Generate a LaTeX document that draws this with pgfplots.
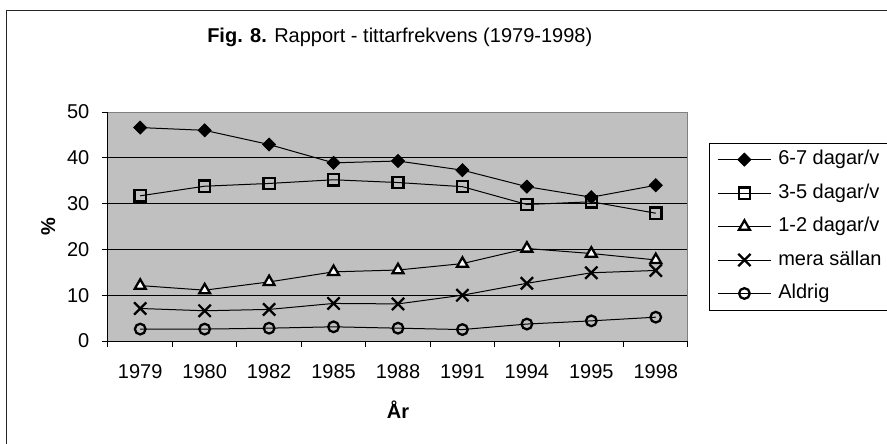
\documentclass[border=0pt]{standalone}
\usepackage{fontspec}
\setmainfont{Liberation Sans}
\usepackage{pgfplots}
\pgfplotsset{compat=1.18}
\definecolor{plotbg}{HTML}{C0C0C0}
\definecolor{edge}{HTML}{808080}
\newcommand\cf{\fontsize{15}{18}\selectfont}

\begin{document}
\begin{tikzpicture}
\useasboundingbox (-81pt,-76.5pt) rectangle (584.25pt,255.75pt);
\draw[line width=0.75pt, black!85] (-75.75pt,-90pt) -- (-75.75pt,247.5pt) -- (600pt,247.5pt);
\begin{axis}[
  at={(0,0)}, anchor=south west,
  scale only axis, width=435pt, height=171.75pt,
  xmin=-0.5, xmax=8.5, ymin=0, ymax=50,
  xtick={-0.5,0.5,...,8.5},
  x tick label as interval,
  xticklabels={1979,1980,1982,1985,1988,1991,1994,1995,1998},
  ytick={0,10,...,50},
  axis x line*=bottom, axis y line*=left,
  axis line style={-, line width=0.75pt},
  tick align=outside, major tick length=4.5pt,
  tick style={black, line width=0.75pt},
  ymajorgrids, grid style={black, line width=0.75pt},
  axis background/.style={fill=plotbg},
  ticklabel style={font=\cf},
  /pgf/number format/assume math mode=true,
  xticklabel style={anchor=base, yshift=-23.25pt},
  yticklabel style={anchor=east, xshift=-6pt},
  title={\textbf{Fig. 8.} Rapport - tittarfrekvens (1979-1998)},
  title style={at={(0.503,1.27)}, anchor=base, font=\cf},
  xlabel={\textbf{År}},
  xlabel style={at={(0.5,-0.34)}, anchor=base, font=\cf},
  ylabel={\textbf{\%}},
  ylabel style={at={(-0.103,0.5)}, anchor=center, font=\cf},
  legend style={at={(1.0362,0.8646)}, anchor=north west, font=\cf,
    draw=black, fill=white, inner xsep=6pt, inner ysep=5pt,
    row sep=10.6pt, column sep=5pt,
    nodes={inner sep=0pt, text height=11pt, text depth=3.5pt}},
  legend cell align=left,
  legend image code/.code={\draw[mark repeat=2,mark phase=2] plot coordinates {(0pt,0pt) (20pt,0pt) (40pt,0pt)};},
  after end axis/.code={\draw[edge, line width=0.75pt] (rel axis cs:0,1) -- (rel axis cs:1,1) -- (rel axis cs:1,0);},
]
\addplot[black, line width=0.75pt, mark=square*, mark size=3.5pt, mark options={rotate=45, fill=black, line width=0.5pt}]
  coordinates {(0,46.6) (1,46.0) (2,42.9) (3,38.9) (4,39.3) (5,37.3) (6,33.7) (7,31.4) (8,34.0)};
\addlegendentry{6-7 dagar/v}
\addplot[black, line width=0.75pt, mark=square, mark size=4.2pt, mark options={line width=1.7pt}]
  coordinates {(0,31.7) (1,33.8) (2,34.4) (3,35.2) (4,34.6) (5,33.7) (6,29.8) (7,30.4) (8,27.9)};
\addlegendentry{3-5 dagar/v}
\addplot[black, line width=0.75pt, mark=triangle*, mark size=4.7pt, mark options={fill=white, line width=1.7pt}]
  coordinates {(0,12.1) (1,11.1) (2,12.9) (3,15.1) (4,15.5) (5,16.9) (6,20.2) (7,19.1) (8,17.7)};
\addlegendentry{1-2 dagar/v}
\addplot[black, line width=0.75pt, mark=x, mark size=6.5pt, mark options={line width=1.7pt}]
  coordinates {(0,7.1) (1,6.6) (2,6.9) (3,8.2) (4,8.1) (5,10.0) (6,12.6) (7,14.9) (8,15.4)};
\addlegendentry{mera sällan}
\addplot[black, line width=0.75pt, mark=o, mark size=4pt, mark options={line width=1.7pt}]
  coordinates {(0,2.6) (1,2.6) (2,2.8) (3,3.1) (4,2.8) (5,2.5) (6,3.7) (7,4.4) (8,5.2)};
\addlegendentry{Aldrig}
\end{axis}
\end{tikzpicture}
\end{document}
